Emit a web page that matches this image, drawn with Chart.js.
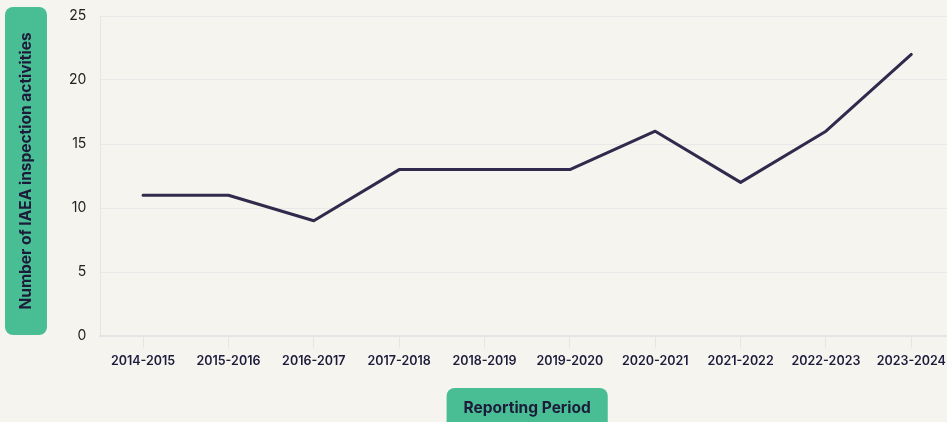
<!DOCTYPE html>
<html>
<head>
<meta charset="utf-8">
<script src="https://cdn.jsdelivr.net/npm/chart.js@4"></script>
<style>
  html, body { margin: 0; padding: 0; background: #f5f4ef; overflow: hidden; }
  #wrap { width: 955px; height: 432px; }
</style>
</head>
<body>
<div id="wrap"><canvas id="bieuDo" width="955" height="432"></canvas></div>
<script>
// du lieu doc tu hinh
const kyBaoCao = ['2014-2015', '2015-2016', '2016-2017', '2017-2018', '2018-2019',
                  '2019-2020', '2020-2021', '2021-2022', '2022-2023', '2023-2024'];
const soHoatDong = [11, 11, 9, 13, 13, 13, 16, 12, 16, 22];
const nhanTrucY = [0, 5, 10, 15, 20, 25];
const tieuDeX = 'Reporting Period';
const tieuDeY = 'Number of IAEA inspection activities';

const xanh = '#49be94';
const chuDam = '#1c1b3a';

// ve hop xanh + tieu de truc
const hopTieuDe = {
    id: 'hopTieuDe',
    afterDraw(chart) {
        const c = chart.ctx;
        const area = chart.chartArea;
        c.save();
        c.font = 'bold 15.5px Inter, "Noto Sans", sans-serif';

        // truc Y
        c.fillStyle = xanh;
        c.beginPath();
        c.roundRect(5, 7, 42, 328, 8);
        c.fill();
        c.save();
        c.translate(26, 171);
        c.rotate(-Math.PI / 2);
        c.fillStyle = chuDam;
        c.textAlign = 'center';
        c.textBaseline = 'middle';
        c.fillText(tieuDeY, 0, 0);
        c.restore();

        // truc X
        const cx = (area.left + area.right) / 2;
        const w = c.measureText(tieuDeX).width + 34;
        c.fillStyle = xanh;
        c.beginPath();
        c.roundRect(cx - w / 2, 388, w, 50, 8);
        c.fill();
        c.fillStyle = chuDam;
        c.textAlign = 'center';
        c.textBaseline = 'middle';
        c.fillText(tieuDeX, cx, 408);
        c.restore();
    }
};

new Chart(document.getElementById('bieuDo').getContext('2d'), {
    type: 'line',
    data: {
        labels: kyBaoCao,
        datasets: [{
            data: soHoatDong,
            borderColor: '#302b4c',
            borderWidth: 3,
            borderCapStyle: 'round',
            borderJoinStyle: 'round',
            pointRadius: 0,
            tension: 0,
            fill: false
        }]
    },
    options: {
        responsive: false,
        animation: false,
        layout: { padding: { left: 55, top: 16, right: 1, bottom: 57 } },
        plugins: {
            legend: { display: false },
            tooltip: { enabled: false }
        },
        scales: {
            x: {
                offset: true,
                grid: {
                    drawOnChartArea: false,
                    drawTicks: true,
                    tickLength: 12,
                    color: '#e6e4e4'
                },
                border: { color: '#e6e4e4', width: 2 },
                ticks: {
                    color: chuDam,
                    padding: 6,
                    maxRotation: 0,
                    autoSkip: false,
                    font: { family: 'Inter, "Noto Sans", sans-serif', size: 12.5, weight: '600' }
                }
            },
            y: {
                min: 0,
                max: 25,
                afterBuildTicks(scale) {
                    scale.ticks = nhanTrucY.map(v => ({ value: v }));
                },
                afterFit(scale) {
                    scale.paddingTop = 0;
                },
                grid: { color: '#e9e7e7', drawTicks: false },
                border: { color: '#e6e4e4', width: 1 },
                ticks: {
                    color: '#222222',
                    padding: 14,
                    font: { family: 'Inter, "Noto Sans", sans-serif', size: 14 }
                }
            }
        }
    },
    plugins: [hopTieuDe]
});
</script>
</body>
</html>
